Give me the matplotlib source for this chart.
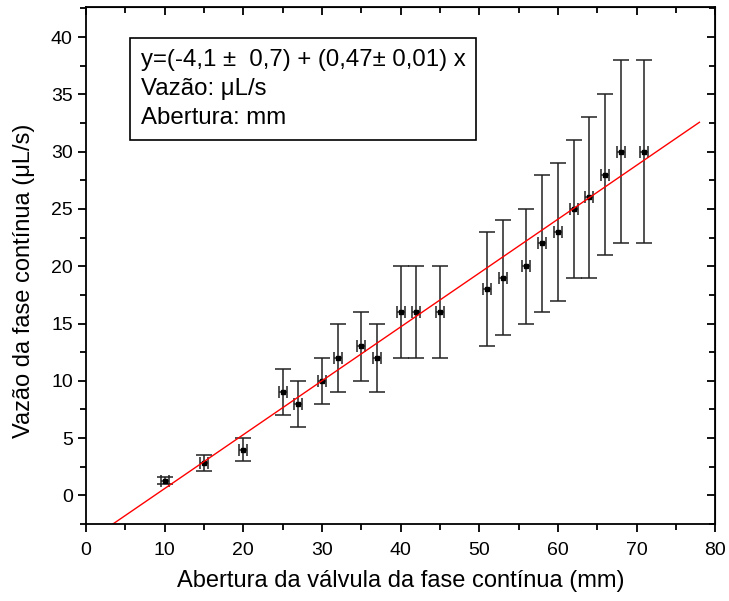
import matplotlib
matplotlib.use("Agg")
import matplotlib.pyplot as plt
from matplotlib.ticker import MultipleLocator
import numpy as np

plt.rcParams['font.family'] = ['Liberation Sans', 'DejaVu Sans']

# abertura (mm) vs vazao (uL/s)
abertura = [10, 15, 20, 25, 27, 30, 32, 35, 37, 40, 42, 45,
             51, 53, 56, 58, 60, 62, 64, 66, 68, 71]
vazao = [1.3, 2.8, 4, 9, 8, 10, 12, 13, 12, 16, 16, 16,
         18, 19, 20, 22, 23, 25, 26, 28, 30, 30]
erro_vazao = [0.3, 0.7, 1, 2, 2, 2, 3, 3, 3, 4, 4, 4,
              5, 5, 5, 6, 6, 6, 7, 7, 8, 8]
erro_abertura = [0.5] * len(abertura)

# linear fit coefficients
a, b = -4.1, 0.47
x_fit = [0, 78]

fig = plt.figure(figsize=(7.29, 6.01), dpi=100)
ax = fig.add_axes([0.118, 0.128, 0.863, 0.86])

ax.errorbar(abertura, vazao, yerr=erro_vazao, fmt='none', ecolor='#222222',
            elinewidth=1.1, capsize=6, capthick=1.1)
ax.errorbar(abertura, vazao, xerr=erro_abertura, fmt='none', ecolor='#222222',
            elinewidth=1.1, capsize=4, capthick=1.1)
ax.plot(abertura, vazao, 's', color='black', markersize=3.5)
ax.plot(x_fit, [a + b * x for x in x_fit], color='red', linewidth=1)

ax.set_xlim(0, 80)
ax.set_ylim(-2.5, 42.6)
ax.xaxis.set_major_locator(MultipleLocator(10))
ax.xaxis.set_minor_locator(MultipleLocator(5))
ax.yaxis.set_major_locator(MultipleLocator(5))
ax.yaxis.set_minor_locator(MultipleLocator(2.5))

ax.tick_params(which='both', direction='out', top=False, right=False,
               labelsize=14, width=1.3)
ax.tick_params(axis='x', pad=7)
ax.tick_params(which='major', length=6)
ax.tick_params(which='minor', length=4)
for side in ax.spines.values():
    side.set_linewidth(1.3)

# inward ticks on top and right, like the original
ax_top = ax.secondary_xaxis('top')
ax_top.xaxis.set_major_locator(MultipleLocator(10))
ax_top.xaxis.set_minor_locator(MultipleLocator(5))
ax_top.tick_params(which='both', direction='in', labeltop=False, width=1.3)
ax_top.tick_params(which='major', length=6)
ax_top.tick_params(which='minor', length=4)
ax_right = ax.secondary_yaxis('right')
ax_right.yaxis.set_major_locator(MultipleLocator(5))
ax_right.yaxis.set_minor_locator(MultipleLocator(2.5))
ax_right.tick_params(which='both', direction='in', labelright=False, width=1.3)
ax_right.tick_params(which='major', length=6)
ax_right.tick_params(which='minor', length=4)

ax.set_xlabel('Abertura da válvula da fase contínua (mm)', fontsize=17, labelpad=8)
ax.set_ylabel('Vazão da fase contínua (μL/s)', fontsize=17)
ax.yaxis.set_label_coords(-0.081, 0.47)

ax.text(0.087, 0.92,
        'y=(-4,1 ±  0,7) + (0,47± 0,01) x\nVazão: μL/s\nAbertura: mm',
        transform=ax.transAxes, fontsize=17.3, va='top', ha='left',
        linespacing=1.42,
        bbox=dict(boxstyle='square,pad=0.45', facecolor='white',
                  edgecolor='black', linewidth=1.2))

fig.savefig('out.png', dpi=100)
